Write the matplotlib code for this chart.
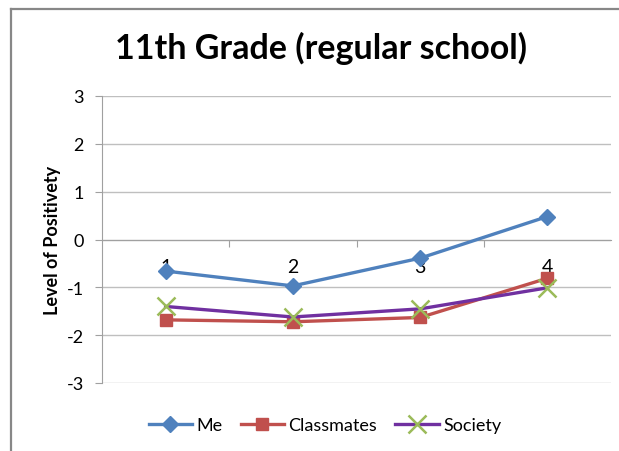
import matplotlib.pyplot as plt
from matplotlib.lines import Line2D

plt.rcParams['font.family'] = ['Lato', 'DejaVu Sans']
plt.rcParams['axes.unicode_minus'] = False

# data
categories = ['1', '2', '3', '4']
me = [-0.66, -0.97, -0.39, 0.48]
classmates = [-1.68, -1.72, -1.63, -0.81]
society = [-1.40, -1.62, -1.45, -1.01]

W, H = 619, 452
fig = plt.figure(figsize=(W / 100, H / 100), dpi=100)

# outer chart border (gray lines at left and top)
fig.add_artist(Line2D([11 / W, 11 / W], [0, 1 - 10 / H], color='#878787', lw=1.6))
fig.add_artist(Line2D([11 / W, 1], [1 - 10 / H, 1 - 10 / H], color='#878787', lw=1.6))

ax = fig.add_axes([102 / W, 68 / H, 509 / W, 287 / H])
x = list(range(1, len(categories) + 1))

ax.plot(x, me, color='#4F81BD', lw=2.4, marker='D', ms=8, mec='#4F81BD', mfc='#4F81BD', label='Me', zorder=3)
ax.plot(x, classmates, color='#C0504D', lw=2.4, marker='s', ms=9, mec='#C0504D', mfc='#C0504D', label='Classmates', zorder=3)
ax.plot(x, society, color='#7030A0', lw=2.4, marker='x', ms=13, mew=1.8, mec='#9BBB59', label='Society', zorder=4)

ax.set_xlim(0.5, 4.5)
ax.set_ylim(-3, 3)
ax.set_yticks(range(-3, 4))
ax.grid(axis='y', color='#BFBFBF', lw=1)
ax.set_axisbelow(True)

for s in ['top', 'right']:
    ax.spines[s].set_visible(False)
ax.spines['left'].set_color('#A0A0A0')
ax.spines['bottom'].set_position(('data', 0))
ax.spines['bottom'].set_color('#A0A0A0')

# category ticks between categories, labels centred on categories
ax.set_xticks([1.5, 2.5, 3.5])
ax.set_xticklabels([])
ax.set_xticks(x, minor=True)
ax.set_xticklabels(categories, minor=True, fontsize=14)
ax.tick_params(axis='x', which='major', length=5, color='#A0A0A0', direction='out')
ax.tick_params(axis='x', which='minor', length=0, pad=13)
ax.tick_params(axis='y', length=5, color='#A0A0A0', labelsize=13, pad=8)

ax.set_ylabel('Level of Positivety', fontsize=13, fontweight='bold', labelpad=4)

fig.text(321 / W, 1 - 48 / H, '11th Grade (regular school)', fontsize=24.5, fontweight='bold', ha='center', va='center')

fig.legend(loc='center', bbox_to_anchor=(325 / W, 1 - 426 / H), ncol=3, frameon=False,
           fontsize=13, handlelength=2.4, columnspacing=1.0, handletextpad=0.25)

fig.savefig('out.png', dpi=100)
